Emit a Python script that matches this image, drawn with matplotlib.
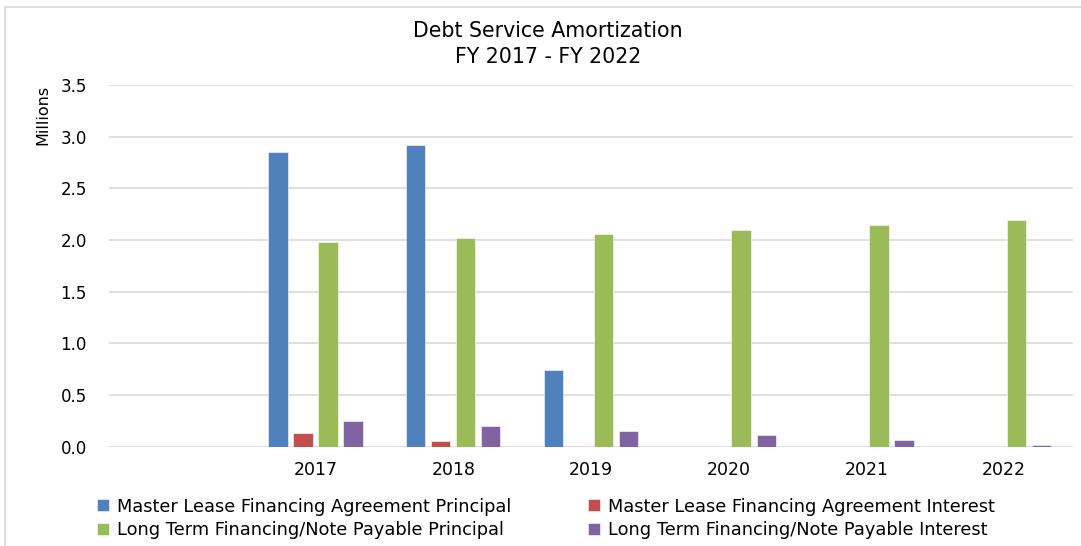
import numpy as np
import matplotlib.pyplot as plt
from matplotlib.patches import Rectangle

# data (millions); first slot is an empty category, as in the source chart
years = ["", "2017", "2018", "2019", "2020", "2021", "2022"]
mlfa_principal = [np.nan, 2.853, 2.923, 0.743, np.nan, np.nan, np.nan]
mlfa_interest = [np.nan, 0.130, 0.058, 0.004, np.nan, np.nan, np.nan]
ltf_principal = [np.nan, 1.977, 2.019, 2.062, 2.101, 2.150, 2.192]
ltf_interest = [np.nan, 0.249, 0.200, 0.155, 0.116, 0.068, 0.015]

series_names = [
    "Master Lease Financing Agreement Principal",
    "Master Lease Financing Agreement Interest",
    "Long Term Financing/Note Payable Principal",
    "Long Term Financing/Note Payable Interest",
]
colors_lst = ["#4F81BD", "#C0504D", "#9BBB59", "#8064A2"]
font = "DejaVu Sans"

fig = plt.figure(figsize=(10.81, 5.46), dpi=100)
ax = fig.add_axes([0.1008, 0.1819, 0.8918, 0.6624])

# outer chart frame
fig.patches.append(Rectangle((5 / 1081, -0.05), 1.2, 1 - 7 / 546 + 0.05,
                             transform=fig.transFigure, fill=False,
                             edgecolor="#d9d9d9", lw=1.2))

xs = np.arange(len(years))
step = 0.1816
width = 0.141
all_series = [mlfa_principal, mlfa_interest, ltf_principal, ltf_interest]
handles = []
for i, vals in enumerate(all_series):
    b = ax.bar(xs + (i - 1.5) * step, np.array(vals, dtype=float), width,
               color=colors_lst[i], edgecolor="white", linewidth=0.4,
               label=series_names[i], zorder=3)
    handles.append(b)

ax.set_xlim(-0.5, len(years) - 0.5)
ax.set_ylim(0, 3.5)
ax.set_yticks(np.arange(0, 3.51, 0.5))
ax.set_yticklabels(["%.1f" % v for v in np.arange(0, 3.51, 0.5)],
                   fontsize=12, family=font)
ax.set_xticks(xs)
ax.set_xticklabels(years, fontsize=12.5, family=font)
ax.tick_params(axis="both", length=0)
ax.tick_params(axis="y", pad=16)
ax.tick_params(axis="x", pad=10)
ax.grid(axis="y", color="#d9d9d9", lw=1.2, zorder=0)
for s in ax.spines.values():
    s.set_visible(False)
ax.set_axisbelow(True)

fig.text(0.040, 0.79, "Millions", rotation=90, ha="center", va="center",
         fontsize=11.5, family=["Liberation Sans Narrow", "DejaVu Sans"])

fig.text(0.507, 0.943, "Debt Service Amortization", ha="center", va="center",
         fontsize=14.8, family=font)
fig.text(0.507, 0.896, "FY 2017 - FY 2022", ha="center", va="center",
         fontsize=14.8, family=font)

# legend: two rows in two columns, each column placed on its own
leg_kw = dict(loc="lower left", frameon=False, handlelength=0.65,
              handleheight=0.65, handletextpad=0.5, labelspacing=0.3,
              borderpad=0.0, borderaxespad=0.0,
              prop={"family": font, "size": 12.8})
leg1 = fig.legend([handles[0], handles[2]], [series_names[0], series_names[2]],
                  bbox_to_anchor=(97 / 1081, 7 / 546), **leg_kw)
leg2 = fig.legend([handles[1], handles[3]], [series_names[1], series_names[3]],
                  bbox_to_anchor=(588 / 1081, 7 / 546), **leg_kw)

fig.savefig("out.png", dpi=100)
